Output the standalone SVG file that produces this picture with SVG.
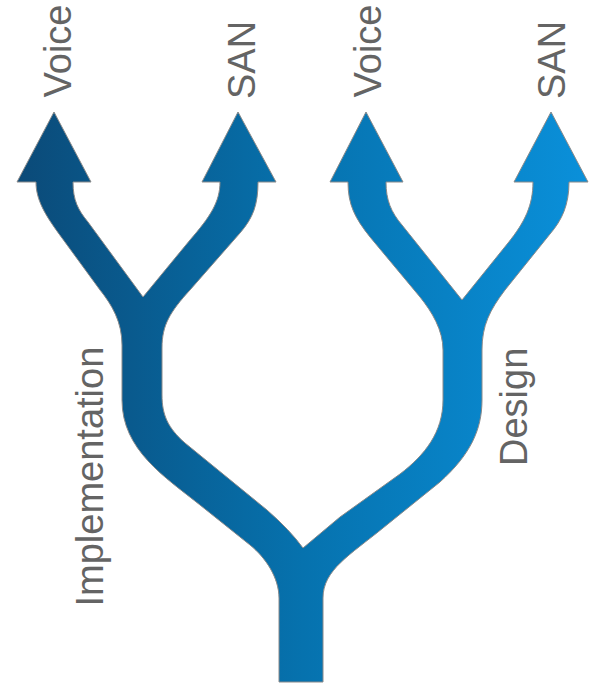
<svg xmlns="http://www.w3.org/2000/svg" width="590" height="683" viewBox="0 0 590 683">
  <defs>
    <linearGradient id="blueGrad" gradientUnits="userSpaceOnUse" x1="17" y1="0" x2="588" y2="0">
      <stop offset="0" stop-color="#0b4a78"/>
      <stop offset="0.5" stop-color="#0672ae"/>
      <stop offset="1" stop-color="#0a90da"/>
    </linearGradient>
  </defs>
  <style>
    .tree { fill: url(#blueGrad); stroke: #8a8a8a; stroke-width: 1; stroke-linejoin: miter; }
    .lbl { font-family: "Liberation Sans", Arial, sans-serif; font-size: 38px; fill: #646464; }
  </style>
  <g id="connectors">
    <path id="tree" class="tree" d="M279,682 L279,598 C279,578 266,558 250,545 L200,505 C165,477 122,450 122,400 L122,345 C122,322 112,305 100,290 L62,238 C45,215 36,200 36,182 L17,182 L54,112 L91,182 L73,182 C73,200 78,210 88,222 L143,297 L190,240 C210,217 220,202 220,182 L202,182 L238,112 L276,182 L258,182 C258,205 253,218 240,233 L190,290 C170,312 162,325 162,348 L162,395 C162,415 168,428 185,443 L267,510 Q290,530 303,548 L340,517 L400,474 C425,455 443,432 443,400 L443,350 C443,330 432,312 420,297 L370,237 C355,218 348,205 348,182 L330,182 L366,112 L403,182 L386,182 C386,200 391,212 402,225 L462,300 L508,243 C525,222 533,205 533,182 L514,182 L551,112 L588,182 L569,182 C569,205 562,220 550,234 L505,290 C490,310 482,325 482,350 L482,400 C482,430 470,455 440,482 L383,528 C350,555 323,570 323,598 L323,682 Z"/>
  </g>
  <g id="node-voice-left"><text class="lbl" transform="translate(71,97.5) rotate(-90)">Voice</text></g>
  <g id="node-san-left"><text class="lbl" transform="translate(255,99) rotate(-90)">SAN</text></g>
  <g id="node-voice-right"><text class="lbl" transform="translate(381,97.5) rotate(-90)">Voice</text></g>
  <g id="node-san-right"><text class="lbl" transform="translate(565,99) rotate(-90)">SAN</text></g>
  <g id="node-implementation"><text class="lbl" transform="translate(103,606.5) rotate(-90)">Implementation</text></g>
  <g id="node-design"><text class="lbl" transform="translate(527,466) rotate(-90)">Design</text></g>
</svg>
